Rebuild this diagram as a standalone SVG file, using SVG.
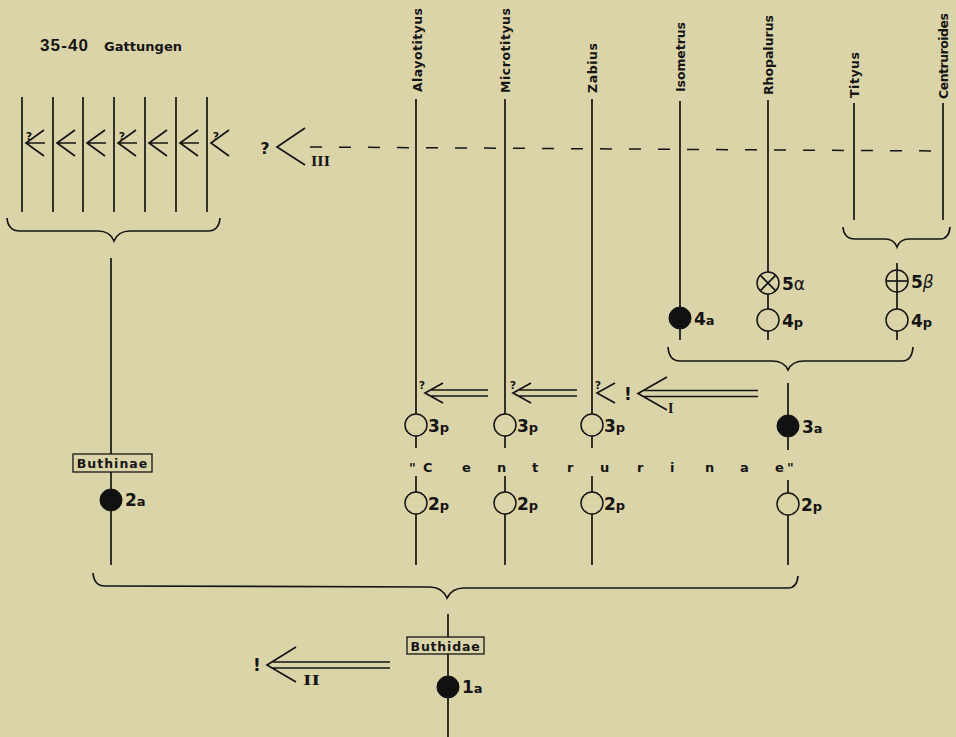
<svg xmlns="http://www.w3.org/2000/svg" width="956" height="737" viewBox="0 0 956 737">
<defs>
<style>
.ln{stroke:#151515;stroke-width:1.7;fill:none;stroke-linecap:butt}
.dash{stroke:#151515;stroke-width:1.5;fill:none;stroke-dasharray:12 17}
.t{font-family:"DejaVu Sans","Liberation Sans",sans-serif;font-weight:bold;fill:#151515}
.g{font-size:12.5px}
.d{font-size:17px}
.s{font-size:13px}
.r{font-family:"Liberation Serif","DejaVu Serif",serif;font-weight:bold;fill:#151515;font-size:14px}
.q{font-family:"DejaVu Sans","Liberation Sans",sans-serif;font-weight:bold;fill:#151515;font-size:11px}
.open{fill:none;stroke:#151515;stroke-width:1.5}
.full{fill:#111;stroke:#111;stroke-width:1}
.box{fill:none;stroke:#151515;stroke-width:1.3}
</style>
</defs>
<rect x="0" y="0" width="956" height="737" fill="#dbd4a9"/>

<g id="title">
<text x="40" y="51" font-family="'Liberation Sans',Arial,sans-serif" font-weight="bold" fill="#151515" font-size="17" textLength="48" lengthAdjust="spacing">35-40</text>
<text class="t" x="104" y="51" font-size="13" textLength="78" lengthAdjust="spacing">Gattungen</text>
</g>

<g id="genus-labels">
<text class="t g" transform="rotate(-90 422 92)" x="422" y="92" textLength="84" lengthAdjust="spacing">Alayotityus</text>
<text class="t g" transform="rotate(-90 510 93)" x="510" y="93" textLength="85" lengthAdjust="spacing">Microtityus</text>
<text class="t g" transform="rotate(-90 597 93)" x="597" y="93" textLength="50" lengthAdjust="spacing">Zabius</text>
<text class="t g" transform="rotate(-90 685 92)" x="685" y="92" textLength="70" lengthAdjust="spacing">Isometrus</text>
<text class="t g" transform="rotate(-90 773 95)" x="773" y="95" textLength="80" lengthAdjust="spacing">Rhopalurus</text>
<text class="t g" transform="rotate(-90 859 98)" x="859" y="98" textLength="46" lengthAdjust="spacing">Tityus</text>
<text class="t g" transform="rotate(-90 948 99)" x="948" y="99" textLength="86" lengthAdjust="spacing">Centruroides</text>
</g>

<g id="connectors">
<path class="ln" d="M22,97V212M53,97V212M83,97V212M114,97V212M145,97V212M176,97V212M207,97V212"/>
<path class="ln" d="M7,218Q8,231 20,231L98,231Q110,231 114,241Q118,231 130,231L208,231Q219,231 220,218"/>
<path class="ln" d="M111,258V454M111,472V489M111,511V565"/>
<path class="ln" d="M416,99V414M416,436V448M416,476V492M416,514V565"/>
<path class="ln" d="M505,99V414M505,436V448M505,476V492M505,514V565"/>
<path class="ln" d="M592,99V414M592,436V448M592,476V492M592,514V565"/>
<path class="ln" d="M788,383V415M788,437V450M788,480V493M788,515V565"/>
<path class="ln" d="M680,101V307M680,329V340"/>
<path class="ln" d="M768,100V272M768,294V309M768,331V340"/>
<path class="ln" d="M854,103V220M943,103V220"/>
<path class="ln" d="M897,263V309M897,331V340"/>
<path class="ln" d="M843,227Q844,239 855,239L885,239Q894,239 897,247Q900,239 909,239L940,239Q949,239 950,227"/>
<path class="ln" d="M668,347Q669,361 680,361L772,361Q784,361 788,370Q792,361 804,361L902,361Q912,361 913,347"/>
<path class="ln" d="M93,573Q94,586 105,586L430,587Q442,587 447,598Q452,588 464,588L788,588Q797,588 798,576"/>
<path class="ln" d="M448,614V637M448,654V676M448,698V737"/>
<path class="dash" d="M310,147L940,151"/>
</g>

<g id="arrows-left-group">
<path class="ln" d="M44,130L26,143L44,156M26,143H45"/>
<path class="ln" d="M75,130L57,143L75,156M57,143H76"/>
<path class="ln" d="M105,130L87,143L105,156M87,143H106"/>
<path class="ln" d="M136,130L118,143L136,156M118,143H137"/>
<path class="ln" d="M167,130L149,143L167,156M149,143H168"/>
<path class="ln" d="M198,130L180,143L198,156M180,143H199"/>
<path class="ln" d="M229,130L211,143L229,156"/>
<text class="q" x="29" y="140" text-anchor="middle">?</text>
<text class="q" x="122" y="140" text-anchor="middle">?</text>
<text class="q" x="216" y="140" text-anchor="middle">?</text>
</g>

<g id="arrow-III">
<text class="t" x="265" y="154" font-size="16" text-anchor="middle">?</text>
<path class="ln" d="M305,128L277,147L305,165"/>
<text class="r" x="311" y="166" textLength="19" lengthAdjust="spacingAndGlyphs">III</text>
</g>

<g id="arrows-centrurinae">
<path class="ln" d="M443,383L425,393L443,403M431,390H488M431,396H488"/>
<text class="q" x="422" y="389" text-anchor="middle">?</text>
<path class="ln" d="M531,383L513,393L531,403M519,390H577M519,396H577"/>
<text class="q" x="513" y="389" text-anchor="middle">?</text>
<path class="ln" d="M615,383L597,393L615,403"/>
<text class="q" x="598" y="389" text-anchor="middle">?</text>
</g>

<g id="arrow-I">
<text class="t" x="628" y="400" font-size="17" text-anchor="middle">!</text>
<path class="ln" d="M667,377L638,393.5L667,410M644,390.5H758M644,396.5H758"/>
<text class="r" x="668" y="413">I</text>
</g>

<g id="arrow-II">
<text class="t" x="257" y="671" font-size="17" text-anchor="middle">!</text>
<path class="ln" d="M296,647L267,665L296,682M271,662H390M271,668H390"/>
<text class="r" x="303" y="685" textLength="17" lengthAdjust="spacingAndGlyphs">II</text>
</g>

<g id="node-buthinae">
<rect class="box" x="73" y="454" width="79" height="18"/>
<text class="t" x="112.5" y="468" font-size="12.5" text-anchor="middle" letter-spacing="1">Buthinae</text>
</g>
<g id="node-2a-buthinae">
<circle class="full" cx="111" cy="500" r="11"/>
<text class="t" x="125" y="506"><tspan class="d">2</tspan><tspan class="s">a</tspan></text>
</g>

<g id="node-3p-alayotityus"><circle class="open" cx="416" cy="425" r="11"/><text class="t" x="428" y="432"><tspan class="d">3</tspan><tspan class="s">p</tspan></text></g>
<g id="node-3p-microtityus"><circle class="open" cx="505" cy="425" r="11"/><text class="t" x="517" y="432"><tspan class="d">3</tspan><tspan class="s">p</tspan></text></g>
<g id="node-3p-zabius"><circle class="open" cx="592" cy="425" r="11"/><text class="t" x="604" y="432"><tspan class="d">3</tspan><tspan class="s">p</tspan></text></g>
<g id="node-3a"><circle class="full" cx="788" cy="426" r="11"/><text class="t" x="802" y="433"><tspan class="d">3</tspan><tspan class="s">a</tspan></text></g>

<g id="label-centrurinae">
<text class="t" font-size="13" y="472" x="409 423 462 497 532 567 600 637 670 705 740 775 787">"Centrurinae"</text>
</g>

<g id="node-2p-alayotityus"><circle class="open" cx="416" cy="503" r="11"/><text class="t" x="428" y="510"><tspan class="d">2</tspan><tspan class="s">p</tspan></text></g>
<g id="node-2p-microtityus"><circle class="open" cx="505" cy="503" r="11"/><text class="t" x="517" y="510"><tspan class="d">2</tspan><tspan class="s">p</tspan></text></g>
<g id="node-2p-zabius"><circle class="open" cx="592" cy="503" r="11"/><text class="t" x="604" y="510"><tspan class="d">2</tspan><tspan class="s">p</tspan></text></g>
<g id="node-2p-centrurinae"><circle class="open" cx="788" cy="504" r="11"/><text class="t" x="801" y="511"><tspan class="d">2</tspan><tspan class="s">p</tspan></text></g>

<g id="node-4a-isometrus"><circle class="full" cx="680" cy="318" r="11"/><text class="t" x="694" y="325"><tspan class="d">4</tspan><tspan class="s">a</tspan></text></g>
<g id="node-5alpha-rhopalurus"><circle class="open" cx="768" cy="283" r="11"/><path class="ln" stroke-width="1.4" d="M760.2,275.2L775.8,290.8M775.8,275.2L760.2,290.8"/><text class="t" x="782" y="290"><tspan class="d">5</tspan><tspan class="d" font-weight="normal">α</tspan></text></g>
<g id="node-4p-rhopalurus"><circle class="open" cx="768" cy="320" r="11"/><text class="t" x="782" y="327"><tspan class="d">4</tspan><tspan class="s">p</tspan></text></g>
<g id="node-5beta-tityus"><circle class="open" cx="897" cy="281" r="11"/><path class="ln" stroke-width="1.4" d="M886,281H908"/><text class="t" x="911" y="288"><tspan class="d">5</tspan><tspan class="d" font-weight="normal" font-style="italic">β</tspan></text></g>
<g id="node-4p-tityus"><circle class="open" cx="897" cy="320" r="11"/><text class="t" x="911" y="327"><tspan class="d">4</tspan><tspan class="s">p</tspan></text></g>

<g id="node-buthidae">
<rect class="box" x="407" y="637" width="77" height="17"/>
<text class="t" x="445.5" y="650.5" font-size="12.5" text-anchor="middle" letter-spacing="0.8">Buthidae</text>
</g>
<g id="node-1a-buthidae"><circle class="full" cx="448" cy="687" r="11"/><text class="t" x="462" y="693"><tspan class="d">1</tspan><tspan class="s">a</tspan></text></g>
</svg>
